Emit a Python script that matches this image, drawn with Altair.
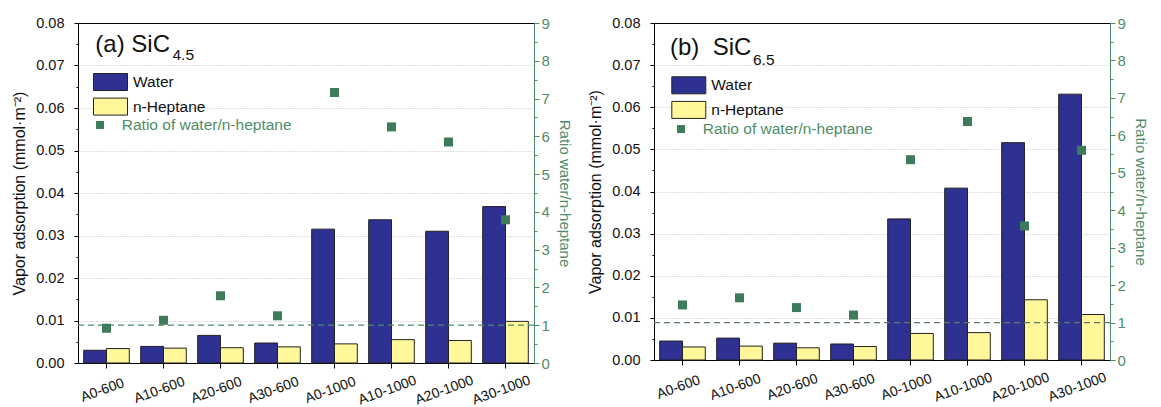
import altair as alt
import pandas as pd

cats = ["A0-600", "A10-600", "A20-600", "A30-600", "A0-1000", "A10-1000", "A20-1000", "A30-1000"]
series = ["Water", "n-Heptane"]
ratio_label = "Ratio of water/n-heptane"

a_water = [0.0030, 0.0039, 0.0065, 0.0047, 0.0315, 0.0337, 0.0310, 0.0368]
a_hept = [0.0034, 0.0035, 0.0036, 0.0038, 0.0045, 0.0055, 0.0053, 0.0098]
a_ratio = [0.92, 1.13, 1.78, 1.25, 7.16, 6.25, 5.85, 3.79]

b_water = [0.0045, 0.0052, 0.0040, 0.0038, 0.0335, 0.0408, 0.0516, 0.0631]
b_hept = [0.0031, 0.0033, 0.0029, 0.0032, 0.0063, 0.0065, 0.0143, 0.0108]
b_ratio = [1.47, 1.66, 1.40, 1.20, 5.35, 6.37, 3.58, 5.60]

ref_ratio = [1]
title_a = ["(a) SiC", "4.5"]
title_b = ["(b)\u00a0 SiC", "6.5"]

NAVY = "#2E3192"
YELLOW = "#FFF799"
GREEN = "#3E7B5A"
AXGREEN = "#4F8C68"
FONT = "Liberation Sans"

y_vals = [round(i * 0.005, 3) for i in range(17)]
r_vals = [i * 0.5 for i in range(19)]


def panel(water, hept, ratio, title, height, leg, rule_color):
    bars_df = pd.DataFrame({
        "cat": cats * 2,
        "series": [series[0]] * len(cats) + [series[1]] * len(cats),
        "value": water + hept,
    })
    pts_df = pd.DataFrame({"cat": cats, "ratio": ratio, "label": [ratio_label] * len(cats)})
    ref_df = pd.DataFrame({"r": ref_ratio})

    bars = alt.Chart(bars_df).mark_bar(stroke="#222222", strokeWidth=1).encode(
        x=alt.X("cat:N", sort=cats, title=None,
                scale=alt.Scale(paddingInner=0.2, paddingOuter=0.1),
                axis=alt.Axis(orient="bottom", labelAngle=340, labelAlign="center",
                              labelBaseline="middle", labelPadding=22, labelOffset=-4,
                              labelFontSize=14, tickSize=5, domainColor="black",
                              tickColor="black", labelColor="#111")),
        xOffset=alt.XOffset("series:N", sort=series),
        y=alt.Y("value:Q", title="Vapor adsorption (mmol·m⁻²)",
                scale=alt.Scale(domain=[0, 0.08], nice=False),
                axis=alt.Axis(orient="left", values=y_vals,
                              labelExpr="round(datum.value*200) % 2 == 1 ? '' : format(datum.value, '.2f')",
                              tickSize={"condition": {"test": "round(datum.value*200) % 2 == 1", "value": 2}, "value": 4},
                              gridOpacity={"condition": {"test": "round(datum.value*200) % 2 == 1 || datum.value == 0 || datum.value >= 0.08", "value": 0}, "value": 1},
                              grid=True, gridColor="#BBBBBB", gridDash=[1, 2],
                              labelFontSize=14.5, labelPadding=10, titleFontSize=16,
                              titlePadding=8, domainColor="black", tickColor="black",
                              labelColor="#111", titleColor="#111", titleFontWeight="normal")),
        fill=alt.Fill("series:N", scale=alt.Scale(domain=series, range=[NAVY, YELLOW]),
                      legend=alt.Legend(orient="none", legendX=leg[0], legendY=leg[1], title=None,
                                        symbolType="M-2,-1H2V1H-2Z", symbolSize=289,
                                        symbolStrokeColor="#222222", symbolStrokeWidth=1,
                                        labelFontSize=15.5, labelOffset=13.5, rowPadding=2.6,
                                        padding=0, labelColor="#111", labelFont=FONT,
                                        labelLimit=400)),
    )

    pts = alt.Chart(pts_df).mark_square(size=81, opacity=1).encode(
        x=alt.X("cat:N", sort=cats, title=None,
                scale=alt.Scale(paddingInner=0.2, paddingOuter=0.1),
                axis=alt.Axis(orient="top", labels=False, ticks=False, domainColor="black")),
        y=alt.Y("ratio:Q", title="Ratio water/n-heptane",
                scale=alt.Scale(domain=[0, 9], nice=False),
                axis=alt.Axis(orient="right", values=r_vals, grid=False,
                              labelExpr="round(datum.value*2) % 2 == 1 ? '' : format(datum.value, 'd')",
                              tickSize={"condition": {"test": "round(datum.value*2) % 2 == 1", "value": 3}, "value": 5},
                              labelFontSize=15, labelPadding=2, titleFontSize=15, titlePadding=7,
                              domainColor=AXGREEN, tickColor=AXGREEN, labelColor=AXGREEN,
                              titleColor=AXGREEN, titleFontWeight="normal")),
        color=alt.Color("label:N", scale=alt.Scale(domain=[ratio_label], range=[GREEN]),
                        legend=alt.Legend(orient="none", legendX=leg[2], legendY=leg[3], title=None,
                                          symbolType="square", symbolSize=64, labelFontSize=15.5,
                                          labelOffset=14, padding=0, labelColor=AXGREEN,
                                          labelFont=FONT, symbolOpacity=1, labelLimit=400)),
    )

    rule = alt.Chart(ref_df).mark_rule(color=rule_color, strokeDash=[6, 4], strokeWidth=1.2).encode(
        y=alt.Y("r:Q", scale=alt.Scale(domain=[0, 9], nice=False), axis=None),
    )

    t_df = pd.DataFrame({"t": [title[0]]})
    s_df = pd.DataFrame({"t": [title[1]]})
    t1 = alt.Chart(t_df).mark_text(align="left", baseline="alphabetic", fontSize=24, font=FONT, color="#111").encode(
        x=alt.value(leg[4]), y=alt.value(leg[5]), text="t:N")
    t2 = alt.Chart(s_df).mark_text(align="left", baseline="alphabetic", fontSize=15.5, font=FONT, color="#111").encode(
        x=alt.value(leg[6]), y=alt.value(leg[7]), text="t:N")

    return alt.layer(bars, rule, pts, t1, t2).resolve_scale(y="independent").resolve_axis(
        x="independent", y="independent").properties(width=456, height=height)


pa = panel(a_water, a_hept, a_ratio, title_a, 340,
           [23.5, 50, 14.3, 94.2, 17.3, 28.5, 94.5, 37], "#4F8C68")
pb = panel(b_water, b_hept, b_ratio, title_b, 337,
           [25.8, 53.3, 19.3, 98.3, 16, 32.3, 99, 42.3], "#5E7A68")

chart = alt.hconcat(pa, pb, spacing=15).resolve_scale(
    fill="independent", color="independent").resolve_legend(
    fill="independent", color="independent").properties(
    padding={"left": 11, "top": 14, "right": 6, "bottom": 0}
).configure_view(stroke=None).configure(font=FONT)

chart.save("out.html", embed_options={"renderer": "svg", "actions": False})
